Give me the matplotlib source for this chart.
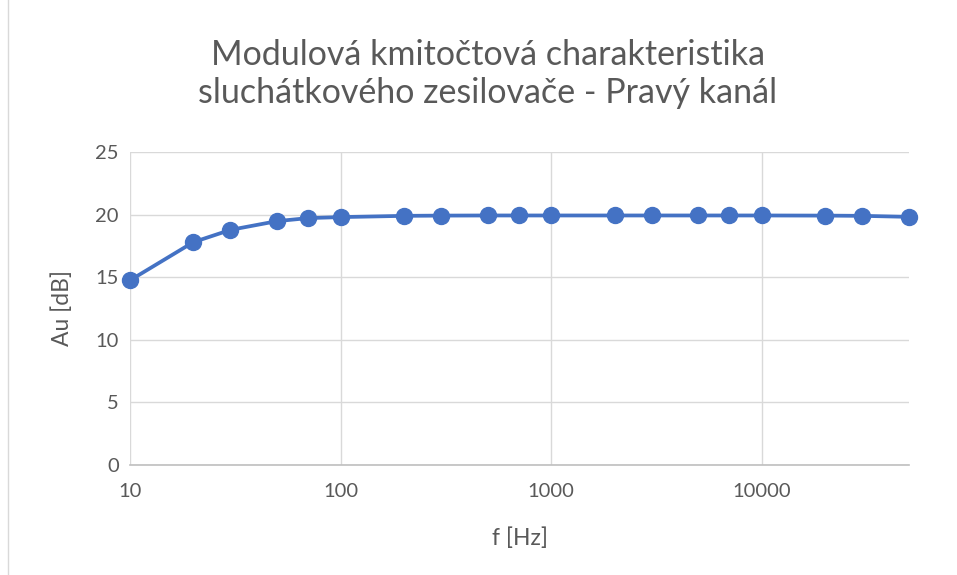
import matplotlib
matplotlib.use("Agg")
import matplotlib.pyplot as plt
from matplotlib.patches import Rectangle

# -----------------------------
# Data
# -----------------------------
freq_hz = [10, 20, 30, 50, 70, 100, 200, 300, 500, 700, 1000,
           2000, 3000, 5000, 7000, 10000, 20000, 30000, 50000]
gain_db = [14.75, 17.8, 18.78, 19.48, 19.72, 19.8, 19.9, 19.92, 19.93, 19.93, 19.93,
           19.93, 19.93, 19.93, 19.93, 19.93, 19.92, 19.9, 19.82]
y_ticks = [0, 5, 10, 15, 20, 25]
x_ticks = [10, 100, 1000, 10000]

title = "Modulová kmitočtová charakteristika\nsluchátkového zesilovače - Pravý kanál"

plt.rcParams['font.family'] = ['Lato', 'DejaVu Sans']

fig = plt.figure(figsize=(9.57, 5.75), dpi=100)
ax = fig.add_axes([130 / 957, 1 - 465 / 575, (909 - 130) / 957, (465 - 152) / 575])

# chart area border
fig.patches.append(Rectangle((8 / 957, -0.01), 1.2, 1.2, transform=fig.transFigure,
                             fill=False, edgecolor='#D9D9D9', linewidth=1))

ax.plot(freq_hz, gain_db, '-o', color='#4472C4', linewidth=2.7, markersize=11.5,
        clip_on=False, zorder=3)

ax.set_xscale('log')
ax.set_xlim(10, 50000)
ax.set_ylim(0, 25)
ax.set_xticks(x_ticks)
ax.set_xticklabels([str(t) for t in x_ticks])
ax.xaxis.set_minor_locator(matplotlib.ticker.NullLocator())
ax.set_yticks(y_ticks)

ax.grid(True, color='#D9D9D9', linewidth=1)
ax.set_axisbelow(True)
for s in ['top', 'right', 'left']:
    ax.spines[s].set_visible(False)
ax.spines['bottom'].set_color('#BFBFBF')
ax.spines['bottom'].set_linewidth(1.2)
ax.tick_params(length=0, labelsize=14.5, colors='#595959', pad=8)
ax.tick_params(axis='x', pad=13)

ax.set_xlabel("f [Hz]", fontsize=16.5, color='#595959', labelpad=20)
ax.set_ylabel("Au [dB]", fontsize=16.5, color='#595959', labelpad=16)

fig.text(488 / 957, 1 - 74 / 575, title, ha='center', va='center',
         fontsize=24.5, color='#595959', linespacing=1.25)

fig.savefig("out.png", dpi=100)
